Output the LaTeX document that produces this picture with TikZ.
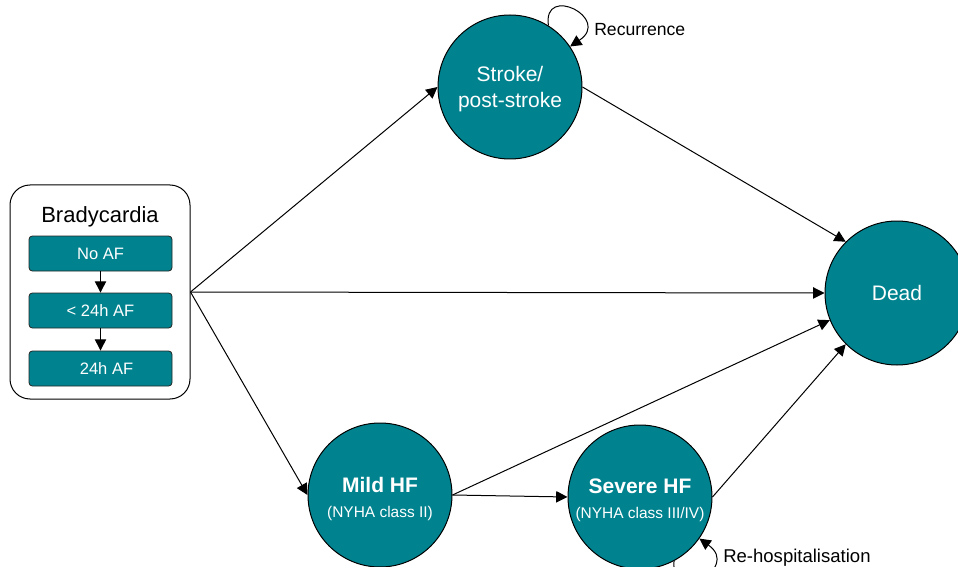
\documentclass[tikz,border=0pt]{standalone}
\usepackage{fontspec}
\setmainfont{Liberation Sans}
\usetikzlibrary{arrows.meta}
\definecolor{stateteal}{HTML}{00838F}

\begin{document}
\begin{tikzpicture}[x=0.75pt, y=-0.75pt,
  every node/.style={inner sep=0pt},
  state/.style={circle, draw=black, line width=0.75pt, fill=stateteal,
    text=white, minimum size=108pt, align=center},
  subbox/.style={draw=black!85, line width=0.6pt, fill=stateteal,
    rounded corners=2.5pt, minimum width=107.25pt, minimum height=26.25pt,
    text=white, font=\fontsize{12.4}{14}\selectfont},
  flow/.style={-{Triangle[length=8.5pt,width=8.5pt]}, line width=0.75pt},
  bigtext/.style={font=\fontsize{15.75}{19.5}\selectfont},
  hftext/.style={font=\fontsize{11.6}{19}\selectfont},
  note/.style={font=\fontsize{13.2}{16}\selectfont, anchor=base west},
]
\useasboundingbox (0,0) rectangle (958,567);

% Bradycardia group with its three sub-states
\node[draw, line width=0.75pt, rounded corners=15pt,
      minimum width=135pt, minimum height=160.5pt] (brady) at (100,292) {};
\node[font=\fontsize{16.5}{20}\selectfont, anchor=base] (bradytitle) at (100,222) {Bradycardia};
\node[subbox] (noaf) at (100.5,253.5) {No AF};
\node[subbox] (short) at (100.5,310.5) {< 24h AF};
\node[subbox] (long) at (100.5,368.5) {\hspace*{9pt}24h AF};
\draw[flow] (noaf) -- (short);
\draw[flow] (short) -- (long);

% Health states
\node[state, bigtext] (stroke) at (510,87) {\rule{0pt}{14.5pt}Stroke/\\post-stroke};
\node[state, bigtext] (dead) at (897,293) {Dead};
\node[state, hftext] (mild) at (380,495)
  {\rule{0pt}{17pt}{\bfseries\fontsize{15.75}{19}\selectfont Mild HF}\\(NYHA class II)};
\node[state, hftext] (severe) at (640,497)
  {\rule{0pt}{16pt}{\bfseries\fontsize{15.75}{19}\selectfont Severe HF}\\(NYHA class III/IV)};

% Transitions
\draw[flow] (brady.east) -- (stroke.west);
\draw[flow] (brady.east) -- (dead.west);
\draw[flow] (brady.east) -- (mild.west);
\draw[flow] (stroke.east) -- (dead.north west);
\draw[flow] (mild.east) -- (dead.202.5);
\draw[flow] (mild.east) -- (severe.west);
\draw[flow] (severe.east) -- (dead.south west);

% Self-loops
\draw[flow] (stroke.58) .. controls +(-6,-42) and +(42,-28) .. (stroke.34);
\draw[flow] (severe.-62) .. controls +(-4,45) and +(42,30) .. (severe.-35);
\node[note] (recur) at (594,35.5) {Recurrence};
\node[note, font=\fontsize{13.9}{16}\selectfont] (rehosp) at (723,562) {Re-hospitalisation};
\end{tikzpicture}
\end{document}
